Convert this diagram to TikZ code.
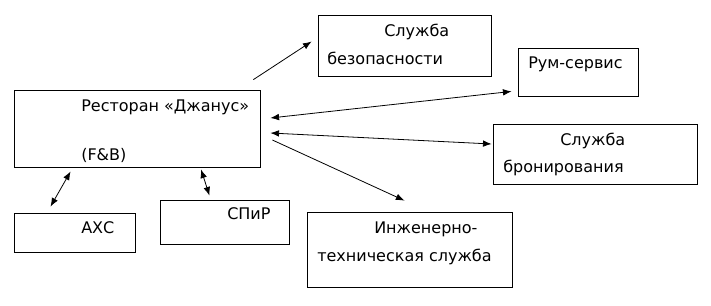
\documentclass[tikz,border=0pt]{standalone}
\usepackage{fontspec}
\setmainfont{DejaVu Sans}
\usetikzlibrary{arrows.meta, positioning, calc, fit}
\tikzset{
    box/.style={rectangle, draw=black, line width=0.6pt, inner sep=0pt},
    lbl/.style={anchor=base west, inner sep=0pt, font=\fontsize{12pt}{14pt}\selectfont},
    arrow/.style={-{Latex[length=6.5pt, width=5pt]}, line width=0.6pt, draw=black},
    dblarrow/.style={{Latex[length=6.5pt, width=5pt]}-{Latex[length=6.5pt, width=5pt]}, line width=0.6pt, draw=black}
}
\begin{document}
\begin{tikzpicture}[x=0.75pt, y=-0.75pt]
        \useasboundingbox (0,0) rectangle (711,305);
        % boxes
        \node[box, fit={(14,90) (260,167)}] (rest) {};
        \node[box, fit={(318,15) (491,76)}] (secur) {};
        \node[box, fit={(518,48) (638,96)}] (room) {};
        \node[box, fit={(493,124) (697,184)}] (booking) {};
        \node[box, fit={(307,212) (512,287)}] (engin) {};
        \node[box, fit={(14,213) (135,252)}] (axc) {};
        \node[box, fit={(160,200) (289,244)}] (spir) {};
        % texts
        \node[lbl] (restA) at (81,111.7) {Ресторан «Джанус»};
        \node[lbl] (restB) at (81,160) {(F\&B)};
        \node[lbl] (securA) at (384,36.7) {Служба};
        \node[lbl] (securB) at (327,64) {безопасности};
        \node[lbl] (roomA) at (528,68) {Рум-сервис};
        \node[lbl] (bookingA) at (560,145) {Служба};
        \node[lbl] (bookingB) at (503,172) {бронирования};
        \node[lbl] (enginA) at (374,233) {Инженерно-};
        \node[lbl] (enginB) at (317,261) {техническая служба};
        \node[lbl] (axcA) at (81,233) {АХС};
        \node[lbl] (spirA) at (227,219) {СПиР};
        % links
        \draw[arrow] ([shift={(-7,-10)}]rest.north east) -- ([shift={(-6,-4)}]secur.west);
        \draw[dblarrow] ([shift={(10,-10.5)}]rest.east) -- ([shift={(-6,-5)}]room.south west);
        \draw[dblarrow] ([shift={(10,4.5)}]rest.east) -- ([shift={(-1,-10)}]booking.west);
        \draw[arrow] ([shift={(12,11.5)}]rest.east) -- ([shift={(-5,-11)}]engin.north);
        \draw[dblarrow] ([shift={(-24,-6)}]axc.north) -- ([shift={(57,4)}]rest.south west);
        \draw[dblarrow] ([shift={(-15,-4)}]spir.north) -- ([shift={(64,2)}]rest.south);
    \end{tikzpicture}
\end{document}
